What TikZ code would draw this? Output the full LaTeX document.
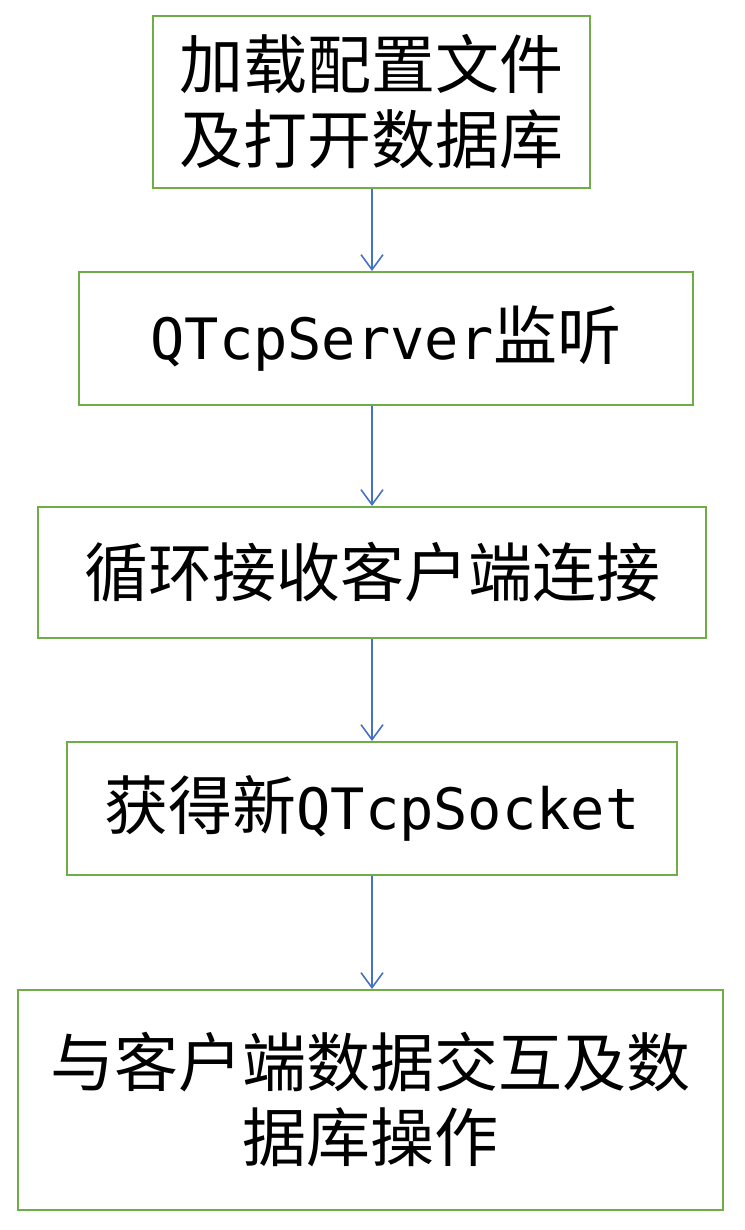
\documentclass[tikz,border=0pt]{standalone}
\usepackage{fontspec}
\setmainfont{Noto Sans CJK SC}
\newfontfamily\latinmono{DejaVu Sans Mono}
\usetikzlibrary{arrows.meta}

\definecolor{boxgreen}{RGB}{112,173,71}
\definecolor{arrowblue}{RGB}{68,114,196}

\begin{document}
\begin{tikzpicture}[x=1pt,y=-1pt,
     stepbox/.style={draw=boxgreen,line width=2pt,rectangle,inner sep=0pt,
        align=center,font=\fontsize{64}{75}\selectfont},
     flow/.style={draw=arrowblue,line width=1.6pt,
        -{Straight Barb[length=15pt,width=22pt,line width=1.6pt]}}
     ]
\useasboundingbox (0,0) rectangle (744,1230);

%Arrow column
\def \xarr{372}

%Boxes of the flow
\node[stepbox,minimum width=437,minimum height=172] (load) at (371.5,102)
   {加载配置文件\\及打开数据库};
\node[stepbox,minimum width=614,minimum height=133] (listen) at (386,338.5)
   {{\latinmono\fontsize{57}{75}\selectfont QTcpServer}监听};
\node[stepbox,minimum width=668,minimum height=131] (accept) at (372,572.5)
   {循环接收客户端连接};
\node[stepbox,minimum width=610,minimum height=133] (socket) at (372,808.5)
   {获得新{\latinmono\fontsize{57}{75}\selectfont QTcpSocket}};
\node[stepbox,minimum width=705,minimum height=220] (talk) at (370.5,1100)
   {与客户端数据交互及数\\据库操作};

%Arrows between the boxes
\foreach \a/\b in {load/listen,listen/accept,accept/socket,socket/talk}
   {
\draw[flow] (\xarr,0 |- \a.south) -- (\xarr,0 |- \b.north);
   }
\end{tikzpicture}
\end{document}
